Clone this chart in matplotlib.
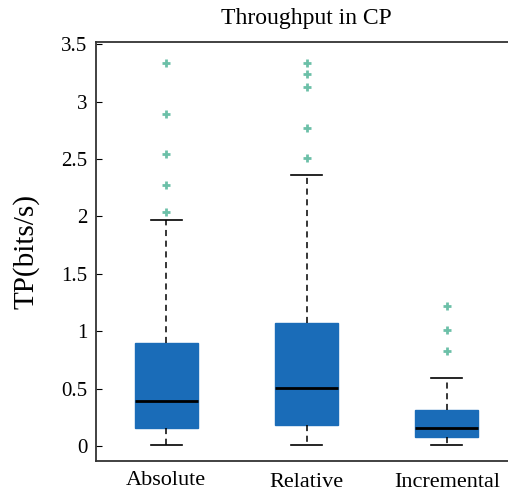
import matplotlib
matplotlib.use("Agg")
import matplotlib.pyplot as plt
from matplotlib.transforms import blended_transform_factory, offset_copy

plt.rcParams['font.family'] = ['Liberation Serif', 'DejaVu Serif']

categories = ["Absolute", "Relative", "Incremental"]
q1 = [0.16, 0.18, 0.08]
medians = [0.39, 0.51, 0.16]
q3 = [0.90, 1.07, 0.31]
whisker_low = [0.01, 0.01, 0.01]
whisker_high = [1.97, 2.36, 0.59]
outliers = [
    [3.34, 2.89, 2.54, 2.27, 2.04],
    [3.34, 3.24, 3.13, 2.77, 2.51],
    [1.22, 1.01, 0.83],
]
yticks = [0, 0.5, 1, 1.5, 2, 2.5, 3, 3.5]
ytick_labels = ["0", "0.5", "1", "1.5", "2", "2.5", "3", "3.5"]

stats = []
for i, name in enumerate(categories):
    stats.append(dict(label=name, q1=q1[i], med=medians[i], q3=q3[i],
                      whislo=whisker_low[i], whishi=whisker_high[i],
                      fliers=outliers[i]))

fig = plt.figure(figsize=(5.08, 4.93), dpi=100)
ax = fig.add_axes([96 / 508, 1 - 461 / 493, (517 - 96) / 508, (461 - 42) / 493])

positions = [1, 2, 3]
box_color = "#1a6cb8"
ax.bxp(stats, positions=positions, widths=0.45, patch_artist=True,
       boxprops=dict(facecolor=box_color, edgecolor=box_color, linewidth=1),
       medianprops=dict(color="black", linewidth=2),
       whiskerprops=dict(color="black", linestyle=(0, (4, 3)), linewidth=1.1),
       capprops=dict(color="black", linewidth=1.2),
       capwidths=0.22,
       flierprops=dict(marker="+", markeredgecolor="#6cc0a8", markersize=6,
                       markeredgewidth=2, linestyle="none"))

ax.set_xlim(0.5, 3.5)
ax.set_ylim(-0.13, 3.52)
ax.set_yticks(yticks)
ax.set_yticklabels(ytick_labels)
ax.tick_params(axis="y", direction="in", length=4, labelsize=15, pad=6)
ax.set_xticks(positions)
ax.tick_params(axis="x", length=0, labelbottom=False)

# category names under each box
trans = blended_transform_factory(ax.transData, ax.transAxes)
label_drop = [0, 2, 2]
for pos, name, drop in zip(positions, categories, label_drop):
    t = offset_copy(trans, fig=fig, x=0, y=-(10 + drop), units="dots")
    ax.text(pos, 0, name, transform=t, ha="center", va="top", fontsize=16)

ax.spines["right"].set_visible(False)
for s in ("left", "bottom", "top"):
    ax.spines[s].set_linewidth(1.3)
    ax.spines[s].set_color("#333333")

ax.set_ylabel("TP(bits/s)", fontsize=21, labelpad=16)
ax.set_title("Throughput in CP", fontsize=17, pad=13)

fig.savefig("out.png", dpi=100)
